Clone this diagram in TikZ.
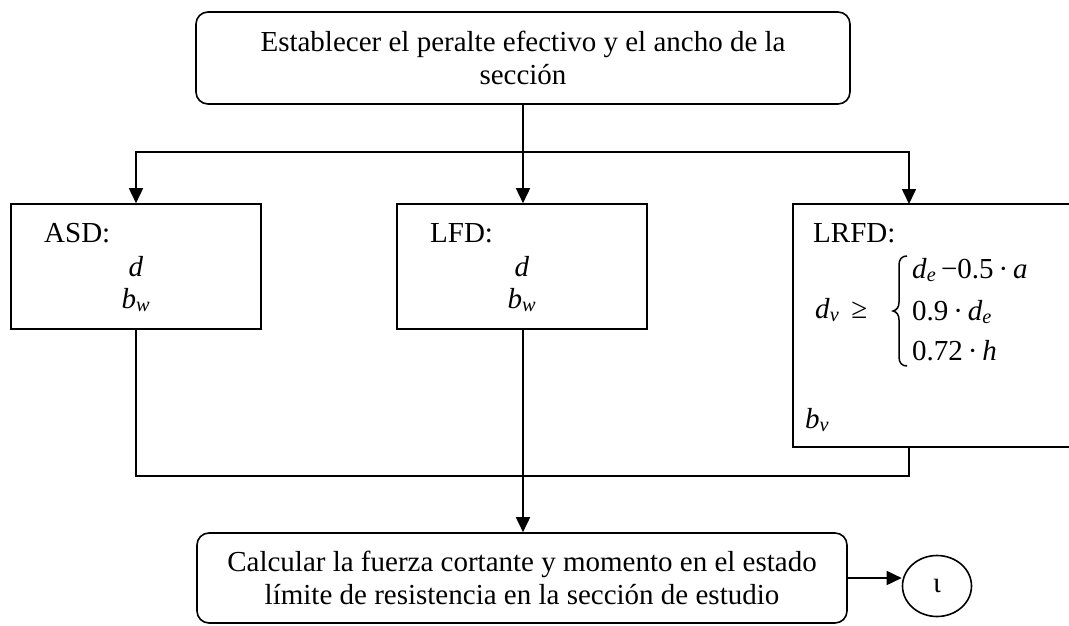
\documentclass[tikz,border=0pt]{standalone}
\usepackage{fontspec}
\setmainfont{Liberation Serif}
\usetikzlibrary{arrows.meta,shapes.geometric}
\begin{document}
\begin{tikzpicture}[x=1pt,y=-1pt,
  box/.style={draw,line width=1.6pt,inner sep=0pt},
  rbox/.style={box,rounded corners=12pt,align=center},
  lbl/.style={inner sep=0pt,anchor=base west},
  lblc/.style={inner sep=0pt,anchor=base},
  conn/.style={line width=1.6pt},
  arr/.style={conn,-{Triangle[length=15pt,width=14pt]}},
  font=\fontsize{29}{33}\selectfont]
\useasboundingbox (0,0) rectangle (1069,625);
\fill[white] (0,0) rectangle (1069,625);

% boxes
\node[rbox,minimum width=654pt,minimum height=92pt] (top) at (523,58)
  {Establecer el peralte efectivo y el ancho de la\\sección};
\node[box,minimum width=250pt,minimum height=125pt] (asd) at (136,266.5) {};
\node[box,minimum width=250pt,minimum height=125pt] (lfd) at (522,266.5) {};
\node[box,minimum width=279pt,minimum height=243pt] (lrfd) at (932.5,325.5) {};
\node[rbox,minimum width=650pt,minimum height=90pt] (calc) at (522,578)
  {Calcular la fuerza cortante y momento en el estado\\límite de resistencia en la sección de estudio};
\node[draw,ellipse,line width=1.6pt,minimum width=69pt,minimum height=61pt,inner sep=0pt] (ell) at (937,586) {\raisebox{-4pt}{ι}};

% texts in boxes
\node[lbl] (asdl) at (44,242) {ASD:};
\node[lblc] (asdd) at (136,276) {\textit{d}};
\node[lblc] (asdb) at (136,308) {\textit{b}\textsubscript{\textit{w}}};
\node[lbl] (lfdl) at (430,242) {LFD:};
\node[lblc] (lfdd) at (522,276) {\textit{d}};
\node[lblc] (lfdb) at (522,308) {\textit{b}\textsubscript{\textit{w}}};
\node[lbl] (lrfdl) at (813,242) {LRFD:};
\node[lbl] (dv) at (815,318) {\textit{d}\textsubscript{\textit{v}}\hspace{12pt}≥};
\draw[line width=1.5pt] (907,256) .. controls (902,256) and (899,259) .. (899,265)
  -- (899,302) .. controls (899,307) and (897,310) .. (893,311)
  .. controls (897,312) and (899,315) .. (899,320)
  -- (899,357) .. controls (899,363) and (902,366) .. (907,366);
\node[lbl] (c1) at (912,278) {\textit{d}\textsubscript{\textit{e}}\,−0.5\,·\,\textit{a}};
\node[lbl] (c2) at (912,320) {0.9\,·\,\textit{d}\textsubscript{\textit{e}}};
\node[lbl] (c3) at (912,360) {0.72\,·\,\textit{h}};
\node[lbl] (bv) at (805,428) {\textit{b}\textsubscript{\textit{v}}};

% connectors
\coordinate (split) at (523,152);
\coordinate (lrfdin) at (909,204);
\coordinate (lrfdout) at (909,447);
\coordinate (join) at (523,476);
\draw[conn] (top.south -| split) -- (split);
\draw[arr] (split) -| (asd.north);
\draw[arr] (split) -- (split |- lfd.north);
\draw[arr] (split) -| (lrfdin);
\draw[conn] (asd.south) |- (join);
\draw[conn] (lrfdout) |- (join);
\draw[arr] (join |- lfd.south) -- (join |- calc.north);
\draw[arr] (calc.east) -- (calc.east -| ell.west);
\end{tikzpicture}
\end{document}
